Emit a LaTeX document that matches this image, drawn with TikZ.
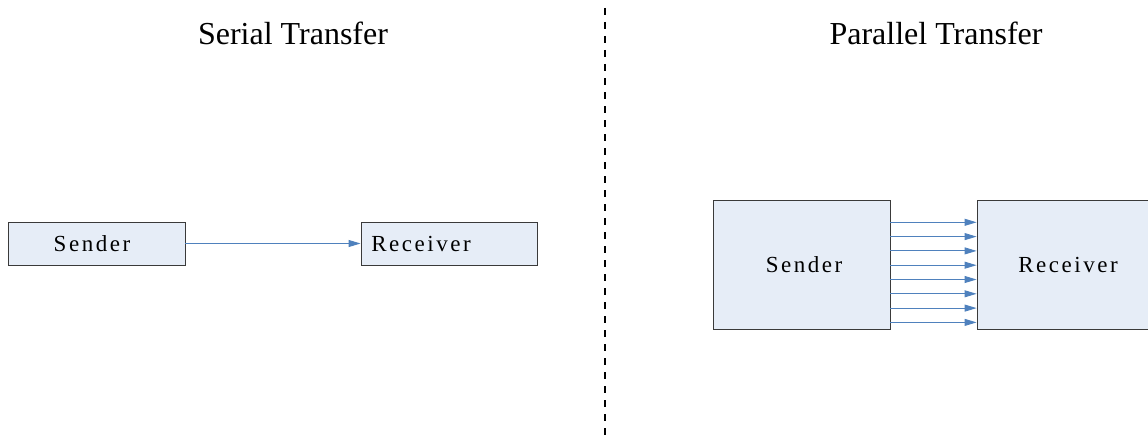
\documentclass[tikz,border=0pt]{standalone}
\usepackage{fontspec}
\setmainfont{Liberation Serif}
\usetikzlibrary{arrows.meta}
\definecolor{boxfill}{HTML}{E6EDF7}
\definecolor{boxedge}{HTML}{3A3A3A}
\definecolor{wire}{HTML}{4F81BD}
\begin{document}
\begin{tikzpicture}[x=1pt,y=-1pt,
  blockbox/.style={draw=boxedge,line width=0.9pt,fill=boxfill,inner sep=0pt},
  blocktext/.style={inner sep=0pt,font=\fontsize{23}{26}\selectfont\addfontfeature{LetterSpace=11}},
  wirearrow/.style={draw=wire,line width=0.9pt,-{Triangle[length=12pt,width=7pt]}},
  title/.style={font=\fontsize{32}{36}\selectfont}]
\useasboundingbox (0,0) rectangle (1148,436);
\clip (0,0) rectangle (1148,436);
% titles
\node[title] (t1) at (293,33) {Serial Transfer};
\node[title] (t2) at (936,33) {Parallel Transfer};
% divider
\coordinate (d1) at (605,8);
\coordinate (d2) at (605,436);
\draw[line width=2pt,dash pattern=on 7pt off 7pt] (d1) -- (d2);
% serial
\node[blockbox,minimum width=177pt,minimum height=43pt] (s1) at (96.5,243.5) {};
\node[blockbox,minimum width=176pt,minimum height=43pt] (r1) at (449,243.5) {};
\node[blocktext] (s1t) at (92,243.5) {Sender};
\node[blocktext] (r1t) at (421,243.5) {Receiver};
\draw[wirearrow] (s1.east) -- (r1.west);
% parallel
\node[blockbox,minimum width=177pt,minimum height=129pt] (s2) at (801.5,264.5) {};
\node[blockbox,minimum width=177pt,minimum height=129pt] (r2) at (1065.5,264.5) {};
\node[blocktext] (s2t) at (804,264.5) {Sender};
\node[blocktext] (r2t) at (1068,264.5) {Receiver};
\foreach \y in {222.3,236.6,250.9,265.2,279.5,293.8,308.1,322.4}{
  \draw[wirearrow] (s2.east |- 0,\y) -- (r2.west |- 0,\y);
}
\end{tikzpicture}
\end{document}
